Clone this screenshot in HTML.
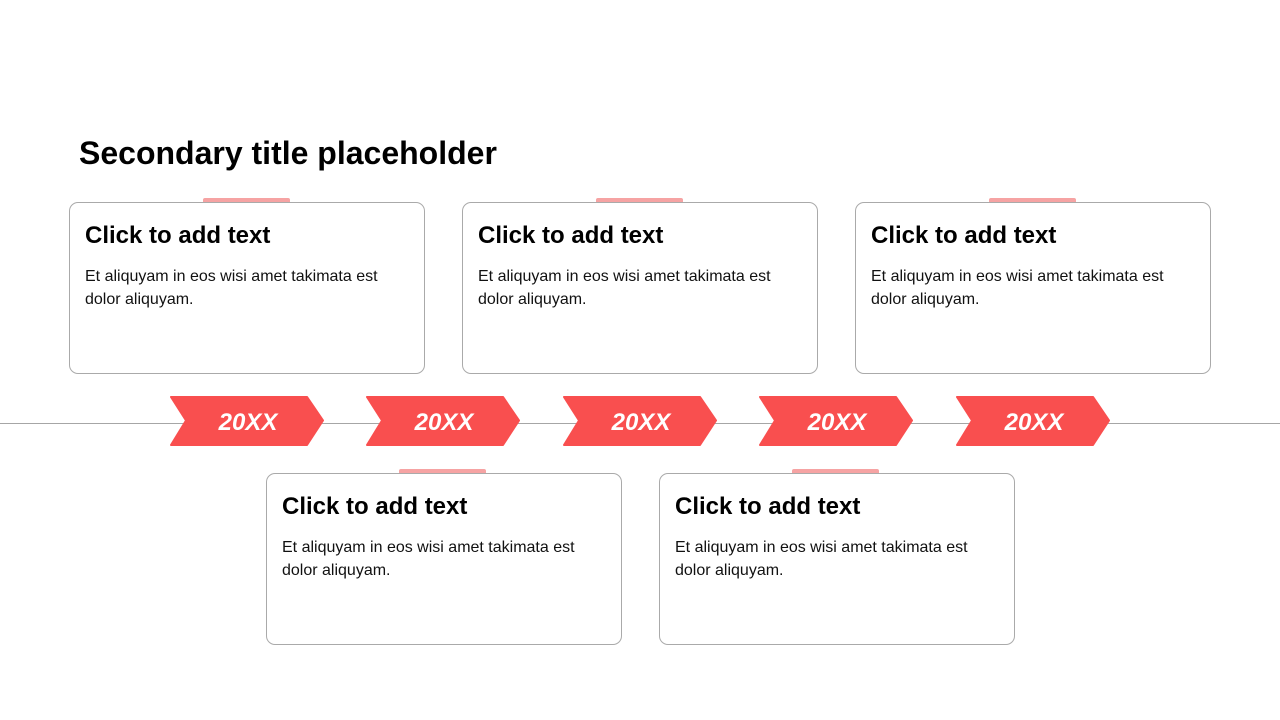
<!DOCTYPE html>
<html><head><meta charset="utf-8"><style>
body{margin:0;width:1280px;height:720px;background:#fff;position:relative;overflow:hidden;font-family:"Liberation Sans",Arial,sans-serif}
.t{position:absolute;left:79px;top:135px;font-size:32px;font-weight:bold;color:#000}
.line{position:absolute;left:0;top:423px;width:1280px;height:1px;background:#a6a6a6}
.card{position:absolute;width:356px;height:172px;border:1px solid #aaa;border-radius:9px;background:#fff;box-sizing:border-box}
.tab{position:absolute;width:87px;height:5px;background:#f6a3a3;border-radius:2px 2px 0 0}
.card h2{margin:0;position:absolute;left:15px;top:19px;font-size:24px;font-weight:bold}
.card p{margin:0;position:absolute;left:15px;top:62px;font-size:16px;line-height:23px;color:#111;width:330px}
svg.ch{position:absolute;top:396px}
</style></head><body>
<div class="t">Secondary title placeholder</div>
<div class="line"></div>
<div class="tab" style="left:203px;top:198px"></div>
<div class="tab" style="left:596px;top:198px"></div>
<div class="tab" style="left:989px;top:198px"></div>
<div class="tab" style="left:399px;top:469px"></div>
<div class="tab" style="left:792px;top:469px"></div>
<div class="card" style="left:69px;top:202px"><h2>Click to add text</h2><p>Et aliquyam in eos wisi amet takimata est dolor aliquyam.</p></div>
<div class="card" style="left:462px;top:202px"><h2>Click to add text</h2><p>Et aliquyam in eos wisi amet takimata est dolor aliquyam.</p></div>
<div class="card" style="left:855px;top:202px"><h2>Click to add text</h2><p>Et aliquyam in eos wisi amet takimata est dolor aliquyam.</p></div>
<div class="card" style="left:266px;top:473px"><h2>Click to add text</h2><p>Et aliquyam in eos wisi amet takimata est dolor aliquyam.</p></div>
<div class="card" style="left:659px;top:473px"><h2>Click to add text</h2><p>Et aliquyam in eos wisi amet takimata est dolor aliquyam.</p></div>
<svg class="ch" style="left:170px" width="154" height="50"><path d="M1,1 H137 L153,24.5 L137,49 H1 L16,24.5 Z" fill="#f94f4f" stroke="#f94f4f" stroke-linejoin="round" stroke-width="2"/><text x="78" y="34" text-anchor="middle" font-family="Liberation Sans" font-size="24" font-weight="bold" font-style="italic" fill="#fff">20XX</text></svg>
<svg class="ch" style="left:366px" width="154" height="50"><path d="M1,1 H137 L153,24.5 L137,49 H1 L16,24.5 Z" fill="#f94f4f" stroke="#f94f4f" stroke-linejoin="round" stroke-width="2"/><text x="78" y="34" text-anchor="middle" font-family="Liberation Sans" font-size="24" font-weight="bold" font-style="italic" fill="#fff">20XX</text></svg>
<svg class="ch" style="left:563px" width="154" height="50"><path d="M1,1 H137 L153,24.5 L137,49 H1 L16,24.5 Z" fill="#f94f4f" stroke="#f94f4f" stroke-linejoin="round" stroke-width="2"/><text x="78" y="34" text-anchor="middle" font-family="Liberation Sans" font-size="24" font-weight="bold" font-style="italic" fill="#fff">20XX</text></svg>
<svg class="ch" style="left:759px" width="154" height="50"><path d="M1,1 H137 L153,24.5 L137,49 H1 L16,24.5 Z" fill="#f94f4f" stroke="#f94f4f" stroke-linejoin="round" stroke-width="2"/><text x="78" y="34" text-anchor="middle" font-family="Liberation Sans" font-size="24" font-weight="bold" font-style="italic" fill="#fff">20XX</text></svg>
<svg class="ch" style="left:956px" width="154" height="50"><path d="M1,1 H137 L153,24.5 L137,49 H1 L16,24.5 Z" fill="#f94f4f" stroke="#f94f4f" stroke-linejoin="round" stroke-width="2"/><text x="78" y="34" text-anchor="middle" font-family="Liberation Sans" font-size="24" font-weight="bold" font-style="italic" fill="#fff">20XX</text></svg>
</body></html>
